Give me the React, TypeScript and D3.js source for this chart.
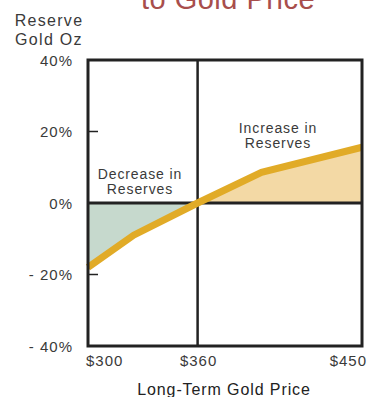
import React from "react";
import * as d3 from "d3";

const prices = [300, 325, 360, 395, 450];
const reserveChange = [-18, -9, 0, 8.6, 15.6];
const yTicks = [40, 20, 0, -20, -40];
const yTickLabels = ["40%", "20%", "0%", "- 20%", "- 40%"];
const xTicks = [300, 360, 450];
const xTickLabels = ["$300", "$360", "$450"];

export default function App() {
  const W = 367, H = 397;
  const left = 88, right = 362, top = 60, bottom = 346;
  const x = d3.scaleLinear().domain([300, 450]).range([left, right]);
  const y = d3.scaleLinear().domain([-40, 40]).range([bottom, top]);
  const pts = prices.map((p, i) => ({ p, v: reserveChange[i] }));
  const line = d3.line<{ p: number; v: number }>().x(d => x(d.p)).y(d => y(d.v));
  const area = d3.area<{ p: number; v: number }>().x(d => x(d.p)).y0(y(0)).y1(d => y(d.v));
  const neg = pts.filter(d => d.p <= 360);
  const pos = pts.filter(d => d.p >= 360);
  const font = "'Liberation Sans', Arial, sans-serif";
  const tc = "#3a3a3a";
  return (
    <svg width={W} height={H} style={{ position: "absolute", left: 0, top: 0 }} fontFamily={font}>
      <rect width={W} height={H} fill="#fff" />
      <text x={228} y={9} textAnchor="middle" fontSize={29} letterSpacing={0.5} fill="#a84e4c">to Gold Price</text>
      <text x={49} y={26} textAnchor="middle" fontSize={16} letterSpacing={1.3} fill={tc}>Reserve</text>
      <text x={49} y={45} textAnchor="middle" fontSize={16} letterSpacing={1.3} fill={tc}>Gold Oz</text>
      <path d={area(neg) || ""} fill="#c6d9cd" />
      <path d={area(pos) || ""} fill="#f3d9a5" />
      {yTicks.map((t, i) => (
        <text key={t} x={73} y={y(t) + 5.5} textAnchor="end" fontSize={15} letterSpacing={1} fill={tc}>{yTickLabels[i]}</text>
      ))}
      {[20, -20].map(t => (
        <line key={t} x1={left} x2={left + 10} y1={y(t)} y2={y(t)} stroke="#222" strokeWidth={1.5} />
      ))}
      <line x1={x(360)} x2={x(360)} y1={top} y2={bottom} stroke="#222" strokeWidth={2.5} />
      <line x1={left} x2={right} y1={y(0)} y2={y(0)} stroke="#222" strokeWidth={3} />
      <path d={line(pts) || ""} fill="none" stroke="#e1ab27" strokeWidth={7} />
      <rect x={left} y={top} width={right - left} height={bottom - top} fill="none" stroke="#222" strokeWidth={3} />
      <text x={140} y={179} textAnchor="middle" fontSize={14} letterSpacing={0.9} fill={tc}>Decrease in</text>
      <text x={140} y={194} textAnchor="middle" fontSize={14} letterSpacing={0.9} fill={tc}>Reserves</text>
      <text x={278} y={133} textAnchor="middle" fontSize={14} letterSpacing={0.9} fill={tc}>Increase in</text>
      <text x={278} y={148} textAnchor="middle" fontSize={14} letterSpacing={0.9} fill={tc}>Reserves</text>
      {xTicks.map((t, i) => (
        <text key={t} x={i === 0 ? x(t) - 2 : i === 2 ? x(t) + 5 : x(t) + 1} y={366}
          textAnchor={i === 0 ? "start" : i === 2 ? "end" : "middle"} fontSize={15} letterSpacing={1} fill={tc}>{xTickLabels[i]}</text>
      ))}
      <text x={224} y={395} textAnchor="middle" fontSize={16} letterSpacing={0.9} fill="#222">Long-Term Gold Price</text>
    </svg>
  );
}
